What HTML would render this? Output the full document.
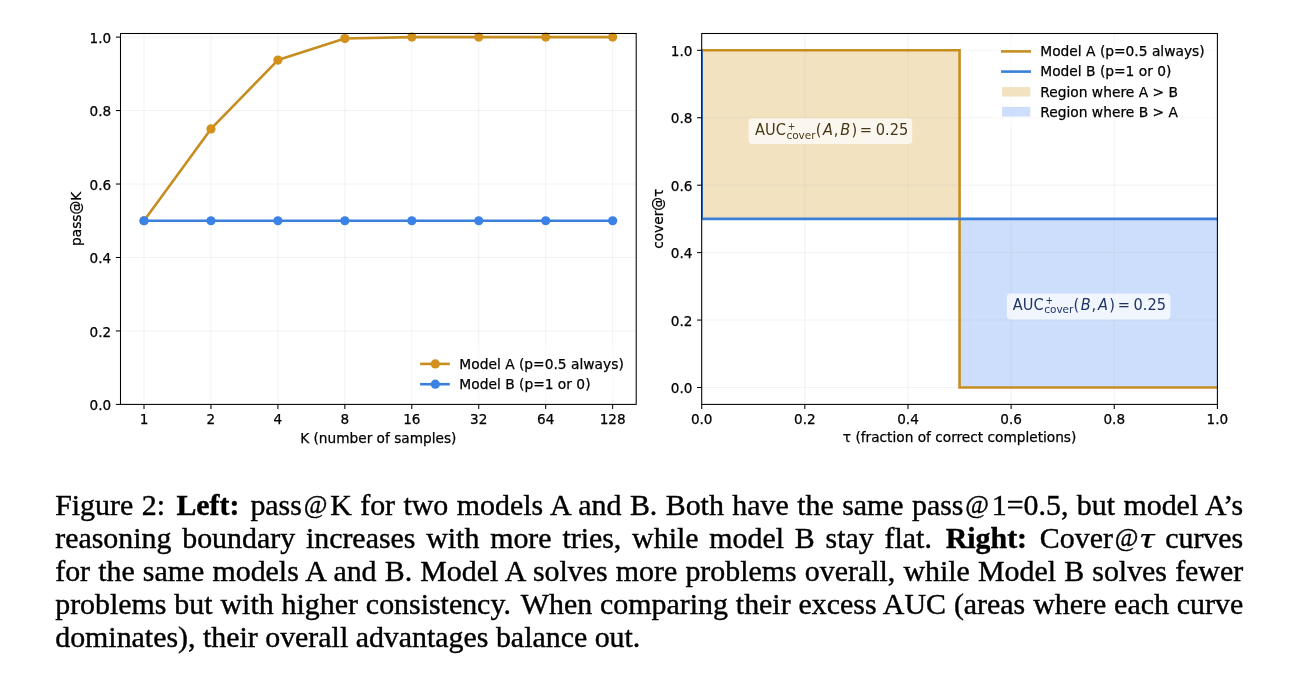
<!DOCTYPE html>
<html><head><meta charset="utf-8"><title>Figure 2</title>
<style>
html,body{margin:0;padding:0;background:#fff;}
body{width:1301px;height:686px;position:relative;overflow:hidden;}
svg{position:absolute;left:0;top:0;}
svg text{font-family:"DejaVu Sans",sans-serif;}
svg text.rot{stroke:#000;stroke-width:0.25px;}
.cap{position:absolute;left:0;top:0;width:1301px;height:686px;font-family:"Liberation Serif","Times New Roman",serif;font-size:29.9px;color:#000;-webkit-text-stroke:0.4px #000;}
.cl{position:absolute;left:55.2px;width:1188px;height:0;line-height:0;white-space:nowrap;text-align:justify;text-align-last:justify;}
.cl.last{text-align:left;text-align-last:left;}
.cl b{font-weight:bold;}
.tau{display:inline-block;transform:scaleX(1.32);transform-origin:0 0;margin-left:-1px;margin-right:3.5px;}
.at{font-size:0.86em;position:relative;top:-2.2px;margin:0 2.8px 0 1.8px;}
.tau{-webkit-text-stroke:0.2px #000;}
</style></head>
<body>
<svg width="1301" height="470" viewBox="0 0 1301 470">
<g id="left">
<line x1="144" y1="33.5" x2="144" y2="404.4" stroke="#b0b0b0" stroke-width="1.0" stroke-opacity="0.17"/>
<line x1="210.95" y1="33.5" x2="210.95" y2="404.4" stroke="#b0b0b0" stroke-width="1.0" stroke-opacity="0.17"/>
<line x1="277.9" y1="33.5" x2="277.9" y2="404.4" stroke="#b0b0b0" stroke-width="1.0" stroke-opacity="0.17"/>
<line x1="344.85" y1="33.5" x2="344.85" y2="404.4" stroke="#b0b0b0" stroke-width="1.0" stroke-opacity="0.17"/>
<line x1="411.8" y1="33.5" x2="411.8" y2="404.4" stroke="#b0b0b0" stroke-width="1.0" stroke-opacity="0.17"/>
<line x1="478.75" y1="33.5" x2="478.75" y2="404.4" stroke="#b0b0b0" stroke-width="1.0" stroke-opacity="0.17"/>
<line x1="545.7" y1="33.5" x2="545.7" y2="404.4" stroke="#b0b0b0" stroke-width="1.0" stroke-opacity="0.17"/>
<line x1="612.65" y1="33.5" x2="612.65" y2="404.4" stroke="#b0b0b0" stroke-width="1.0" stroke-opacity="0.17"/>
<line x1="120.5" y1="404.4" x2="636.2" y2="404.4" stroke="#b0b0b0" stroke-width="1.0" stroke-opacity="0.17"/>
<line x1="120.5" y1="330.94" x2="636.2" y2="330.94" stroke="#b0b0b0" stroke-width="1.0" stroke-opacity="0.17"/>
<line x1="120.5" y1="257.48" x2="636.2" y2="257.48" stroke="#b0b0b0" stroke-width="1.0" stroke-opacity="0.17"/>
<line x1="120.5" y1="184.02" x2="636.2" y2="184.02" stroke="#b0b0b0" stroke-width="1.0" stroke-opacity="0.17"/>
<line x1="120.5" y1="110.56" x2="636.2" y2="110.56" stroke="#b0b0b0" stroke-width="1.0" stroke-opacity="0.17"/>
<line x1="120.5" y1="37.1" x2="636.2" y2="37.1" stroke="#b0b0b0" stroke-width="1.0" stroke-opacity="0.17"/>
<polyline points="144,220.75 210.95,128.92 277.9,60.06 344.85,38.53 411.8,37.11 478.75,37.1 545.7,37.1 612.65,37.1" fill="none" stroke="#C68D20" stroke-width="2.6" stroke-linejoin="round" stroke-linecap="butt"/>
<circle cx="144" cy="220.75" r="4.6" fill="#D3901A"/>
<circle cx="210.95" cy="128.92" r="4.6" fill="#D3901A"/>
<circle cx="277.9" cy="60.06" r="4.6" fill="#D3901A"/>
<circle cx="344.85" cy="38.53" r="4.6" fill="#D3901A"/>
<circle cx="411.8" cy="37.11" r="4.6" fill="#D3901A"/>
<circle cx="478.75" cy="37.1" r="4.6" fill="#D3901A"/>
<circle cx="545.7" cy="37.1" r="4.6" fill="#D3901A"/>
<circle cx="612.65" cy="37.1" r="4.6" fill="#D3901A"/>
<polyline points="144,220.75 210.95,220.75 277.9,220.75 344.85,220.75 411.8,220.75 478.75,220.75 545.7,220.75 612.65,220.75" fill="none" stroke="#3A7FD9" stroke-width="2.6" stroke-linejoin="round"/>
<circle cx="144" cy="220.75" r="4.6" fill="#3A82E8"/>
<circle cx="210.95" cy="220.75" r="4.6" fill="#3A82E8"/>
<circle cx="277.9" cy="220.75" r="4.6" fill="#3A82E8"/>
<circle cx="344.85" cy="220.75" r="4.6" fill="#3A82E8"/>
<circle cx="411.8" cy="220.75" r="4.6" fill="#3A82E8"/>
<circle cx="478.75" cy="220.75" r="4.6" fill="#3A82E8"/>
<circle cx="545.7" cy="220.75" r="4.6" fill="#3A82E8"/>
<circle cx="612.65" cy="220.75" r="4.6" fill="#3A82E8"/>
<rect x="415" y="346" width="218" height="52" fill="#fff" fill-opacity="0.5"/>
<line x1="420.1" y1="363.9" x2="449.8" y2="363.9" stroke="#C68D20" stroke-width="2.6" />
<circle cx="435.3" cy="363.9" r="4.6" fill="#D3901A"/>
<line x1="420.1" y1="384.2" x2="449.8" y2="384.2" stroke="#3A7FD9" stroke-width="2.6" />
<circle cx="435.3" cy="384.2" r="4.6" fill="#3A82E8"/>
<text x="459.35" y="368.9" font-size="13.8" text-anchor="start" fill="#000" stroke="#000" stroke-width="0.25" >Model A (p=0.5 always)</text>
<text x="459.35" y="388.9" font-size="13.8" text-anchor="start" fill="#000" stroke="#000" stroke-width="0.25" >Model B (p=1 or 0)</text>
<rect x="120.5" y="33.5" width="515.7" height="370.9" fill="none" stroke="#000" stroke-width="1.05"/>
<line x1="144" y1="404.4" x2="144" y2="409" stroke="#000" stroke-width="1.05" />
<text x="144" y="423.8" font-size="13.6" text-anchor="middle" fill="#000" stroke="#000" stroke-width="0.25" >1</text>
<line x1="210.95" y1="404.4" x2="210.95" y2="409" stroke="#000" stroke-width="1.05" />
<text x="210.95" y="423.8" font-size="13.6" text-anchor="middle" fill="#000" stroke="#000" stroke-width="0.25" >2</text>
<line x1="277.9" y1="404.4" x2="277.9" y2="409" stroke="#000" stroke-width="1.05" />
<text x="277.9" y="423.8" font-size="13.6" text-anchor="middle" fill="#000" stroke="#000" stroke-width="0.25" >4</text>
<line x1="344.85" y1="404.4" x2="344.85" y2="409" stroke="#000" stroke-width="1.05" />
<text x="344.85" y="423.8" font-size="13.6" text-anchor="middle" fill="#000" stroke="#000" stroke-width="0.25" >8</text>
<line x1="411.8" y1="404.4" x2="411.8" y2="409" stroke="#000" stroke-width="1.05" />
<text x="411.8" y="423.8" font-size="13.6" text-anchor="middle" fill="#000" stroke="#000" stroke-width="0.25" >16</text>
<line x1="478.75" y1="404.4" x2="478.75" y2="409" stroke="#000" stroke-width="1.05" />
<text x="478.75" y="423.8" font-size="13.6" text-anchor="middle" fill="#000" stroke="#000" stroke-width="0.25" >32</text>
<line x1="545.7" y1="404.4" x2="545.7" y2="409" stroke="#000" stroke-width="1.05" />
<text x="545.7" y="423.8" font-size="13.6" text-anchor="middle" fill="#000" stroke="#000" stroke-width="0.25" >64</text>
<line x1="612.65" y1="404.4" x2="612.65" y2="409" stroke="#000" stroke-width="1.05" />
<text x="612.65" y="423.8" font-size="13.6" text-anchor="middle" fill="#000" stroke="#000" stroke-width="0.25" >128</text>
<line x1="115.9" y1="404.4" x2="120.5" y2="404.4" stroke="#000" stroke-width="1.05" />
<text x="111.2" y="410" font-size="13.6" text-anchor="end" fill="#000" stroke="#000" stroke-width="0.25" >0.0</text>
<line x1="115.9" y1="330.94" x2="120.5" y2="330.94" stroke="#000" stroke-width="1.05" />
<text x="111.2" y="336.54" font-size="13.6" text-anchor="end" fill="#000" stroke="#000" stroke-width="0.25" >0.2</text>
<line x1="115.9" y1="257.48" x2="120.5" y2="257.48" stroke="#000" stroke-width="1.05" />
<text x="111.2" y="263.08" font-size="13.6" text-anchor="end" fill="#000" stroke="#000" stroke-width="0.25" >0.4</text>
<line x1="115.9" y1="184.02" x2="120.5" y2="184.02" stroke="#000" stroke-width="1.05" />
<text x="111.2" y="189.62" font-size="13.6" text-anchor="end" fill="#000" stroke="#000" stroke-width="0.25" >0.6</text>
<line x1="115.9" y1="110.56" x2="120.5" y2="110.56" stroke="#000" stroke-width="1.05" />
<text x="111.2" y="116.16" font-size="13.6" text-anchor="end" fill="#000" stroke="#000" stroke-width="0.25" >0.8</text>
<line x1="115.9" y1="37.1" x2="120.5" y2="37.1" stroke="#000" stroke-width="1.05" />
<text x="111.2" y="42.7" font-size="13.6" text-anchor="end" fill="#000" stroke="#000" stroke-width="0.25" >1.0</text>
<text x="378.3" y="442.6" font-size="13.7" text-anchor="middle" fill="#000" stroke="#000" stroke-width="0.25" >K (number of samples)</text>
<text x="0" y="0" font-size="13.7" class="rot" text-anchor="middle" transform="translate(81.3 218.9) rotate(-90)">pass@K</text>
</g>
<g id="right">
<rect x="701.7" y="50.3" width="257.85" height="168.6" fill="#F2E2C0"/>
<rect x="959.55" y="218.9" width="257.85" height="168.6" fill="#CCDEFB"/>
<line x1="701.7" y1="33.5" x2="701.7" y2="404.4" stroke="#b0b0b0" stroke-width="1.0" stroke-opacity="0.17"/>
<line x1="701.7" y1="387.5" x2="1217.4" y2="387.5" stroke="#b0b0b0" stroke-width="1.0" stroke-opacity="0.17"/>
<line x1="804.84" y1="33.5" x2="804.84" y2="404.4" stroke="#b0b0b0" stroke-width="1.0" stroke-opacity="0.17"/>
<line x1="701.7" y1="320.06" x2="1217.4" y2="320.06" stroke="#b0b0b0" stroke-width="1.0" stroke-opacity="0.17"/>
<line x1="907.98" y1="33.5" x2="907.98" y2="404.4" stroke="#b0b0b0" stroke-width="1.0" stroke-opacity="0.17"/>
<line x1="701.7" y1="252.62" x2="1217.4" y2="252.62" stroke="#b0b0b0" stroke-width="1.0" stroke-opacity="0.17"/>
<line x1="1011.12" y1="33.5" x2="1011.12" y2="404.4" stroke="#b0b0b0" stroke-width="1.0" stroke-opacity="0.17"/>
<line x1="701.7" y1="185.18" x2="1217.4" y2="185.18" stroke="#b0b0b0" stroke-width="1.0" stroke-opacity="0.17"/>
<line x1="1114.26" y1="33.5" x2="1114.26" y2="404.4" stroke="#b0b0b0" stroke-width="1.0" stroke-opacity="0.17"/>
<line x1="701.7" y1="117.74" x2="1217.4" y2="117.74" stroke="#b0b0b0" stroke-width="1.0" stroke-opacity="0.17"/>
<line x1="1217.4" y1="33.5" x2="1217.4" y2="404.4" stroke="#b0b0b0" stroke-width="1.0" stroke-opacity="0.17"/>
<line x1="701.7" y1="50.3" x2="1217.4" y2="50.3" stroke="#b0b0b0" stroke-width="1.0" stroke-opacity="0.17"/>
<clipPath id="rclip"><rect x="701.7" y="33.5" width="515.7" height="370.9"/></clipPath>
<g clip-path="url(#rclip)">
<polyline points="701.7,50.3 959.55,50.3 959.55,387.5 1217.4,387.5" fill="none" stroke="#C68D20" stroke-width="2.6" stroke-linejoin="miter"/>
<polyline points="701.7,50.3 701.7,218.9 1217.4,218.9" fill="none" stroke="#3A7FD9" stroke-width="2.6" stroke-linejoin="miter"/>
</g>
<rect x="748.6" y="118.3" width="163.6" height="25.6" rx="4" fill="#fff" fill-opacity="0.72"/>
<rect x="1006.8" y="293.6" width="163.6" height="26" rx="4" fill="#fff" fill-opacity="0.72"/>
<g fill="#463716" transform="translate(0 135.0) scale(1 1.07) translate(0 -135.0)">
<text x="755.08" y="135" font-size="14.6" text-anchor="start" fill="#463716" stroke="#463716" stroke-width="0" >AUC</text>
<text x="787.64" y="130" font-size="9.052" text-anchor="start" fill="#463716" stroke="#463716" stroke-width="0" >+</text>
<text x="786.42" y="138.6" font-size="10.511999999999999" text-anchor="start" fill="#463716" stroke="#463716" stroke-width="0" >cover</text>
<text x="815.74" y="135" font-size="14.6" text-anchor="start" fill="#463716" stroke="#463716" stroke-width="0" >(</text>
<text x="823" y="135" font-size="14.6" text-anchor="start" fill="#463716" stroke="#463716" stroke-width="0" font-style="italic">A</text>
<text x="833.8" y="135" font-size="14.6" text-anchor="start" fill="#463716" stroke="#463716" stroke-width="0" >,</text>
<text x="840.3" y="135" font-size="14.6" text-anchor="start" fill="#463716" stroke="#463716" stroke-width="0" font-style="italic">B</text>
<text x="851.4" y="135" font-size="14.6" text-anchor="start" fill="#463716" stroke="#463716" stroke-width="0" >)</text>
<text x="859.85" y="135" font-size="14.6" text-anchor="start" fill="#463716" stroke="#463716" stroke-width="0" >=</text>
<text x="875.74" y="135" font-size="14.6" text-anchor="start" fill="#463716" stroke="#463716" stroke-width="0" >0.25</text>
</g>
<g fill="#203464" transform="translate(0 309.6) scale(1 1.07) translate(0 -309.6)">
<text x="1012.88" y="309.6" font-size="14.6" text-anchor="start" fill="#203464" stroke="#203464" stroke-width="0" >AUC</text>
<text x="1045.44" y="304.6" font-size="9.052" text-anchor="start" fill="#203464" stroke="#203464" stroke-width="0" >+</text>
<text x="1044.22" y="313.2" font-size="10.511999999999999" text-anchor="start" fill="#203464" stroke="#203464" stroke-width="0" >cover</text>
<text x="1073.54" y="309.6" font-size="14.6" text-anchor="start" fill="#203464" stroke="#203464" stroke-width="0" >(</text>
<text x="1080.8" y="309.6" font-size="14.6" text-anchor="start" fill="#203464" stroke="#203464" stroke-width="0" font-style="italic">B</text>
<text x="1091.6" y="309.6" font-size="14.6" text-anchor="start" fill="#203464" stroke="#203464" stroke-width="0" >,</text>
<text x="1098.1" y="309.6" font-size="14.6" text-anchor="start" fill="#203464" stroke="#203464" stroke-width="0" font-style="italic">A</text>
<text x="1109.2" y="309.6" font-size="14.6" text-anchor="start" fill="#203464" stroke="#203464" stroke-width="0" >)</text>
<text x="1117.65" y="309.6" font-size="14.6" text-anchor="start" fill="#203464" stroke="#203464" stroke-width="0" >=</text>
<text x="1133.54" y="309.6" font-size="14.6" text-anchor="start" fill="#203464" stroke="#203464" stroke-width="0" >0.25</text>
</g>
<rect x="995" y="39" width="218" height="84" fill="#fff" fill-opacity="0.5"/>
<line x1="1001" y1="51.4" x2="1031" y2="51.4" stroke="#C68D20" stroke-width="2.6" />
<line x1="1001" y1="71.6" x2="1031" y2="71.6" stroke="#3A7FD9" stroke-width="2.6" />
<rect x="1002" y="87.1" width="28.3" height="9.4" fill="#F2E2C0"/>
<rect x="1002" y="106.9" width="28.3" height="9.6" fill="#CCDEFB"/>
<text x="1040.25" y="55.9" font-size="13.8" text-anchor="start" fill="#000" stroke="#000" stroke-width="0.25" >Model A (p=0.5 always)</text>
<text x="1040.25" y="76" font-size="13.8" text-anchor="start" fill="#000" stroke="#000" stroke-width="0.25" >Model B (p=1 or 0)</text>
<text x="1040.25" y="96.5" font-size="13.8" text-anchor="start" fill="#000" stroke="#000" stroke-width="0.25" >Region where A &gt; B</text>
<text x="1040.25" y="116.7" font-size="13.8" text-anchor="start" fill="#000" stroke="#000" stroke-width="0.25" >Region where B &gt; A</text>
<rect x="701.7" y="33.5" width="515.7" height="370.9" fill="none" stroke="#000" stroke-width="1.05"/>
<line x1="701.7" y1="404.4" x2="701.7" y2="409" stroke="#000" stroke-width="1.05" />
<text x="701.7" y="423.8" font-size="13.6" text-anchor="middle" fill="#000" stroke="#000" stroke-width="0.25" >0.0</text>
<line x1="697.1" y1="387.5" x2="701.7" y2="387.5" stroke="#000" stroke-width="1.05" />
<text x="692.4" y="393.1" font-size="13.6" text-anchor="end" fill="#000" stroke="#000" stroke-width="0.25" >0.0</text>
<line x1="804.84" y1="404.4" x2="804.84" y2="409" stroke="#000" stroke-width="1.05" />
<text x="804.84" y="423.8" font-size="13.6" text-anchor="middle" fill="#000" stroke="#000" stroke-width="0.25" >0.2</text>
<line x1="697.1" y1="320.06" x2="701.7" y2="320.06" stroke="#000" stroke-width="1.05" />
<text x="692.4" y="325.66" font-size="13.6" text-anchor="end" fill="#000" stroke="#000" stroke-width="0.25" >0.2</text>
<line x1="907.98" y1="404.4" x2="907.98" y2="409" stroke="#000" stroke-width="1.05" />
<text x="907.98" y="423.8" font-size="13.6" text-anchor="middle" fill="#000" stroke="#000" stroke-width="0.25" >0.4</text>
<line x1="697.1" y1="252.62" x2="701.7" y2="252.62" stroke="#000" stroke-width="1.05" />
<text x="692.4" y="258.22" font-size="13.6" text-anchor="end" fill="#000" stroke="#000" stroke-width="0.25" >0.4</text>
<line x1="1011.12" y1="404.4" x2="1011.12" y2="409" stroke="#000" stroke-width="1.05" />
<text x="1011.12" y="423.8" font-size="13.6" text-anchor="middle" fill="#000" stroke="#000" stroke-width="0.25" >0.6</text>
<line x1="697.1" y1="185.18" x2="701.7" y2="185.18" stroke="#000" stroke-width="1.05" />
<text x="692.4" y="190.78" font-size="13.6" text-anchor="end" fill="#000" stroke="#000" stroke-width="0.25" >0.6</text>
<line x1="1114.26" y1="404.4" x2="1114.26" y2="409" stroke="#000" stroke-width="1.05" />
<text x="1114.26" y="423.8" font-size="13.6" text-anchor="middle" fill="#000" stroke="#000" stroke-width="0.25" >0.8</text>
<line x1="697.1" y1="117.74" x2="701.7" y2="117.74" stroke="#000" stroke-width="1.05" />
<text x="692.4" y="123.34" font-size="13.6" text-anchor="end" fill="#000" stroke="#000" stroke-width="0.25" >0.8</text>
<line x1="1217.4" y1="404.4" x2="1217.4" y2="409" stroke="#000" stroke-width="1.05" />
<text x="1217.4" y="423.8" font-size="13.6" text-anchor="middle" fill="#000" stroke="#000" stroke-width="0.25" >1.0</text>
<line x1="697.1" y1="50.3" x2="701.7" y2="50.3" stroke="#000" stroke-width="1.05" />
<text x="692.4" y="55.9" font-size="13.6" text-anchor="end" fill="#000" stroke="#000" stroke-width="0.25" >1.0</text>
<text x="959.6" y="442.4" font-size="13.7" text-anchor="middle" fill="#000" stroke="#000" stroke-width="0.25" >τ (fraction of correct completions)</text>
<text x="0" y="0" font-size="13.7" class="rot" text-anchor="middle" transform="translate(663.1 218.8) rotate(-90)">cover@τ</text>
</g>
</svg>
<div class="cap">
<div class="cl" style="top:505.11px">Figure 2<span style="margin-right:3px">:</span> <b style="margin-right:2.5px">Left:</b> pass<span class="at">@</span>K for two models A and B. Both have the same pass<span class="at">@</span>1=0.5, but model A’s</div>
<div class="cl" style="top:538.11px">reasoning boundary increases with more tries, while model B stay flat<span style="margin-right:3px">.</span> <b style="margin-right:2px">Right:</b> Cover<span class="at">@</span><i class="tau">τ</i> curves</div>
<div class="cl" style="top:571.11px">for the same models A and B. Model A solves more problems overall, while Model B solves fewer</div>
<div class="cl" style="top:604.11px">problems but with higher consistency<span style="margin-right:2.5px">.</span> When comparing their excess AUC (areas where each curve</div>
<div class="cl last" style="top:637.11px">dominates), their overall advantages balance out.</div>
</div>
</body></html>
